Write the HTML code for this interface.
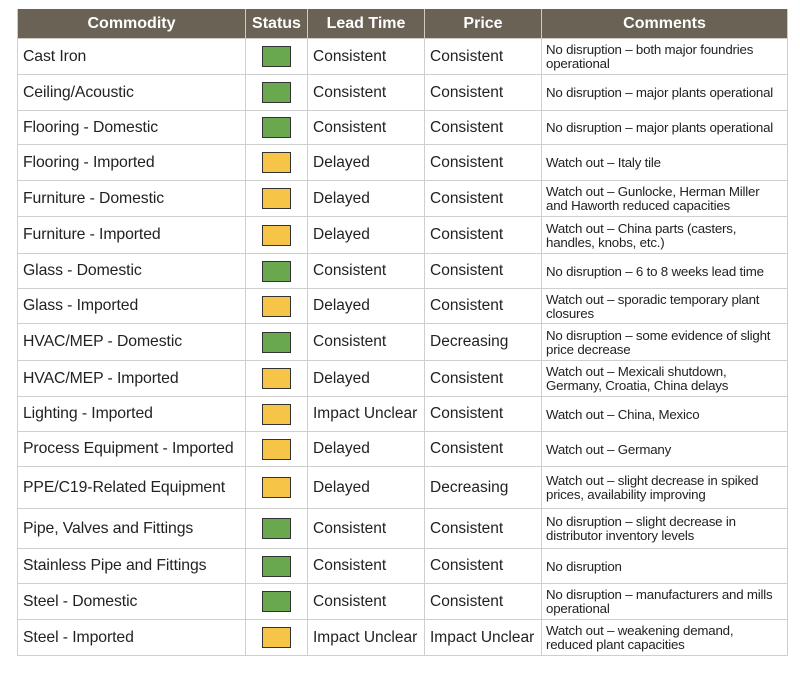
<!DOCTYPE html>
<html><head><meta charset="utf-8"><style>
body{margin:0;width:800px;height:676px;background:#fff;overflow:hidden;font-family:"Liberation Sans",sans-serif;}
table{position:absolute;left:17px;top:9px;border-collapse:collapse;table-layout:fixed;width:770px;}
th{background:#6b6256;color:#fff;font-size:16px;font-weight:bold;height:29px;padding:0;border:1px solid #cfcac4;border-top:none;}
td{border:1px solid #cfcfcf;padding:0 0 0 5px;font-size:15.5px;color:#222;white-space:nowrap;overflow:hidden}
td.n{font-size:15.8px;letter-spacing:-0.1px}
td.s{padding:0;text-align:center}
td.c{font-size:13.3px;line-height:14px;white-space:normal;padding:1px 4px 0 4px;letter-spacing:-0.2px}
.g,.y{display:inline-block;width:29px;height:21px;border:1.5px solid #333;vertical-align:middle;box-sizing:border-box}
.g{background:#6aa84f}.y{background:#f6c446}
</style></head><body>
<table>
<colgroup><col style="width:228px"><col style="width:62px"><col style="width:117px"><col style="width:117px"><col style="width:246px"></colgroup>
<tr><th>Commodity</th><th>Status</th><th>Lead Time</th><th>Price</th><th>Comments</th></tr>
<tr style="height:36px"><td class="n">Cast Iron</td><td class="s"><span class="g"></span></td><td>Consistent</td><td>Consistent</td><td class="c">No disruption – both major foundries operational</td></tr>
<tr style="height:36px"><td class="n">Ceiling/Acoustic</td><td class="s"><span class="g"></span></td><td>Consistent</td><td>Consistent</td><td class="c">No disruption – major plants operational</td></tr>
<tr style="height:34px"><td class="n">Flooring - Domestic</td><td class="s"><span class="g"></span></td><td>Consistent</td><td>Consistent</td><td class="c">No disruption – major plants operational</td></tr>
<tr style="height:36px"><td class="n">Flooring - Imported</td><td class="s"><span class="y"></span></td><td>Delayed</td><td>Consistent</td><td class="c">Watch out – Italy tile</td></tr>
<tr style="height:36px"><td class="n">Furniture - Domestic</td><td class="s"><span class="y"></span></td><td>Delayed</td><td>Consistent</td><td class="c">Watch out – Gunlocke, Herman Miller and Haworth reduced capacities</td></tr>
<tr style="height:37px"><td class="n">Furniture - Imported</td><td class="s"><span class="y"></span></td><td>Delayed</td><td>Consistent</td><td class="c">Watch out – China parts (casters, handles, knobs, etc.)</td></tr>
<tr style="height:35px"><td class="n">Glass - Domestic</td><td class="s"><span class="g"></span></td><td>Consistent</td><td>Consistent</td><td class="c">No disruption – 6 to 8 weeks lead time</td></tr>
<tr style="height:35px"><td class="n">Glass - Imported</td><td class="s"><span class="y"></span></td><td>Delayed</td><td>Consistent</td><td class="c">Watch out – sporadic temporary plant closures</td></tr>
<tr style="height:37px"><td class="n">HVAC/MEP - Domestic</td><td class="s"><span class="g"></span></td><td>Consistent</td><td>Decreasing</td><td class="c">No disruption – some evidence of slight price decrease</td></tr>
<tr style="height:36px"><td class="n">HVAC/MEP - Imported</td><td class="s"><span class="y"></span></td><td>Delayed</td><td>Consistent</td><td class="c">Watch out – Mexicali shutdown, Germany, Croatia, China delays</td></tr>
<tr style="height:35px"><td class="n">Lighting - Imported</td><td class="s"><span class="y"></span></td><td>Impact Unclear</td><td>Consistent</td><td class="c">Watch out – China, Mexico</td></tr>
<tr style="height:35px"><td class="n">Process Equipment - Imported</td><td class="s"><span class="y"></span></td><td>Delayed</td><td>Consistent</td><td class="c">Watch out – Germany</td></tr>
<tr style="height:42px"><td class="n">PPE/C19-Related Equipment</td><td class="s"><span class="y"></span></td><td>Delayed</td><td>Decreasing</td><td class="c">Watch out – slight decrease in spiked prices, availability improving</td></tr>
<tr style="height:40px"><td class="n">Pipe, Valves and Fittings</td><td class="s"><span class="g"></span></td><td>Consistent</td><td>Consistent</td><td class="c">No disruption – slight decrease in distributor inventory levels</td></tr>
<tr style="height:35px"><td class="n">Stainless Pipe and Fittings</td><td class="s"><span class="g"></span></td><td>Consistent</td><td>Consistent</td><td class="c">No disruption</td></tr>
<tr style="height:36px"><td class="n">Steel - Domestic</td><td class="s"><span class="g"></span></td><td>Consistent</td><td>Consistent</td><td class="c">No disruption – manufacturers and mills operational</td></tr>
<tr style="height:36px"><td class="n">Steel - Imported</td><td class="s"><span class="y"></span></td><td>Impact Unclear</td><td>Impact Unclear</td><td class="c">Watch out – weakening demand, reduced plant capacities</td></tr>
</table>
</body></html>
